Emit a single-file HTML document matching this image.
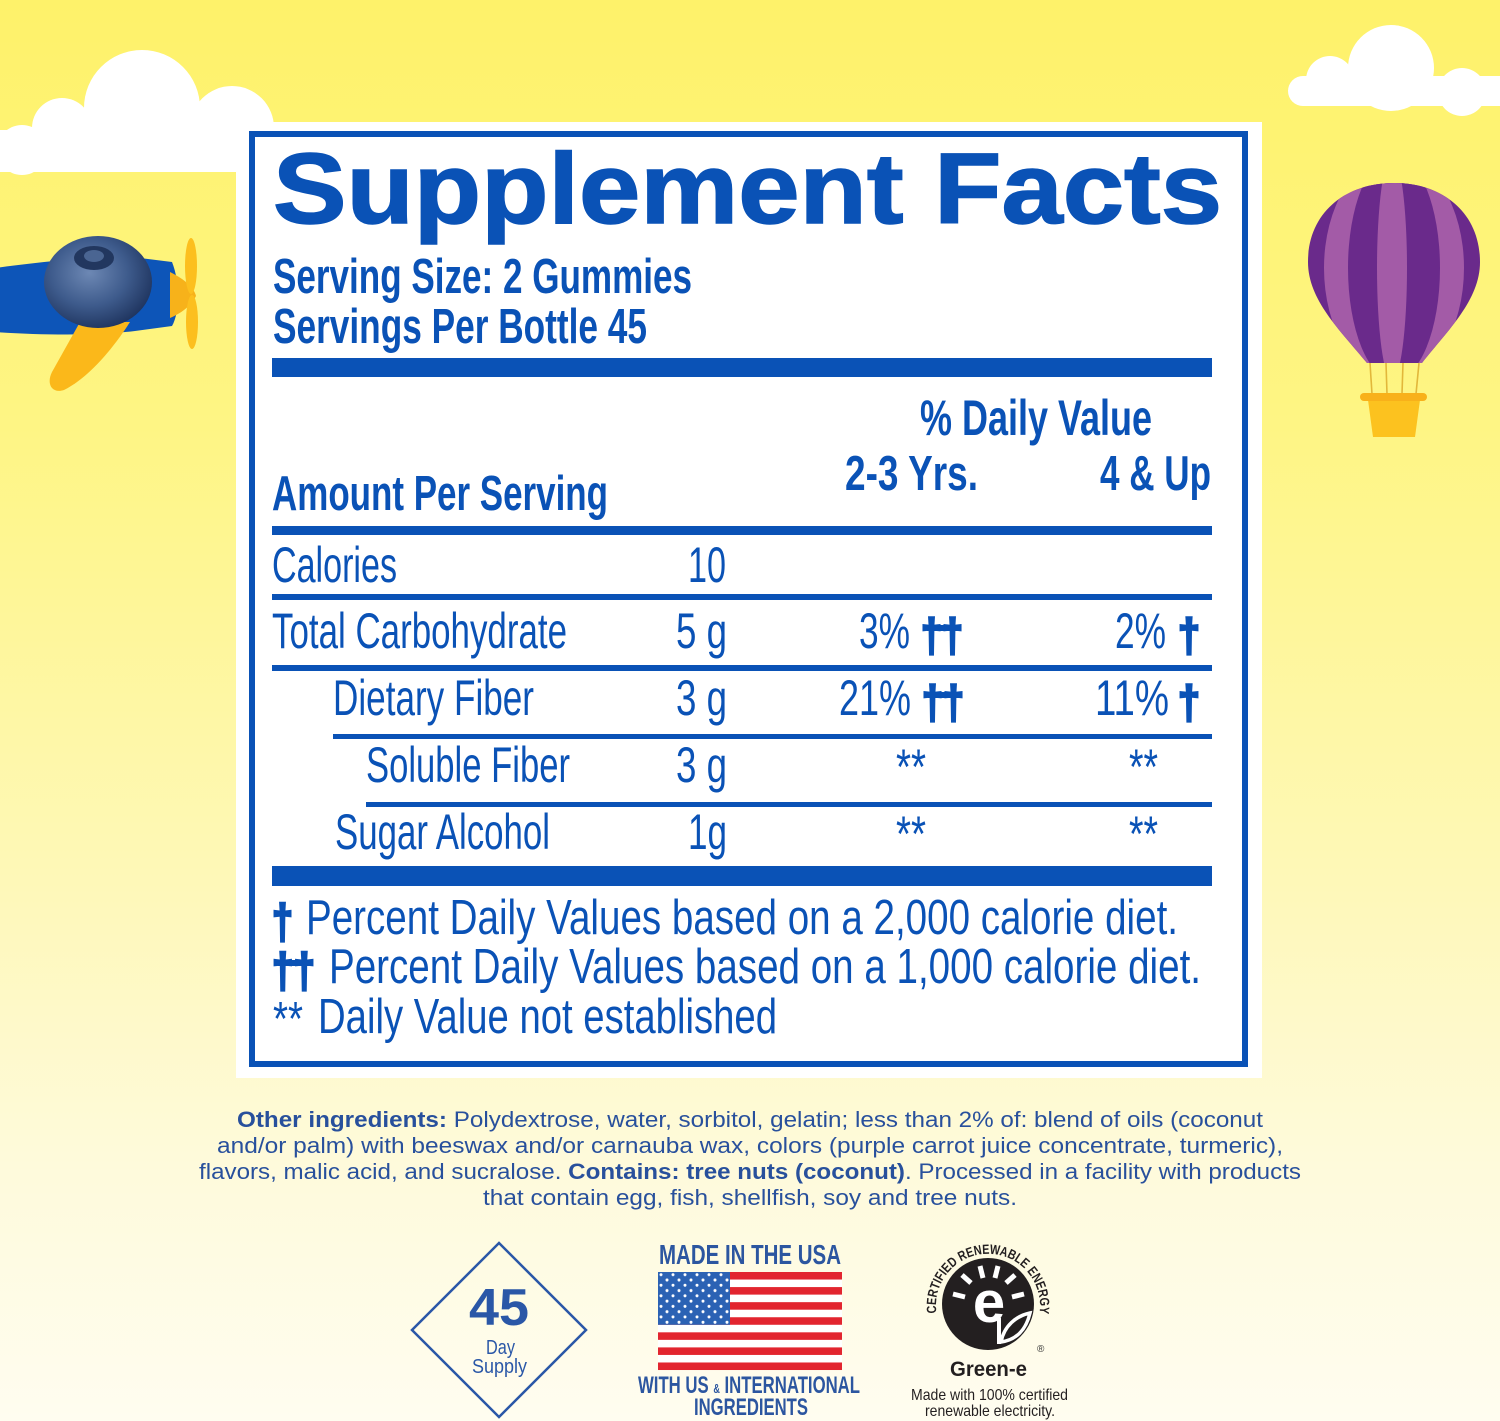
<!DOCTYPE html>
<html>
<head>
<meta charset="utf-8">
<style>
html,body{margin:0;padding:0;background:#fff;}
body{width:1500px;height:1421px;overflow:hidden;}
svg{display:block;}
.b{fill:#0a52b6;font-family:"Liberation Sans",Arial,sans-serif;}
.bd{font-weight:bold;}
</style>
</head>
<body>
<svg width="1500" height="1421" viewBox="0 0 1500 1421" xmlns="http://www.w3.org/2000/svg">
<defs>
<linearGradient id="bg" x1="0" y1="0" x2="0" y2="1">
 <stop offset="0" stop-color="#fef26a"/>
 <stop offset="0.3" stop-color="#fef584"/>
 <stop offset="0.62" stop-color="#fef8b8"/>
 <stop offset="0.82" stop-color="#fefadb"/>
 <stop offset="1" stop-color="#fffdf0"/>
</linearGradient>
<radialGradient id="berry" cx="0.42" cy="0.4" r="0.65">
 <stop offset="0" stop-color="#6d88b4"/>
 <stop offset="0.55" stop-color="#3e5b8c"/>
 <stop offset="1" stop-color="#1d325c"/>
</radialGradient>
<clipPath id="env">
 <path d="M1367,363 C1340,330 1308,300 1308,262 C1308,213 1345,183 1394,183 C1443,183 1480,213 1480,262 C1480,300 1448,330 1422,363 Z"/>
</clipPath>
<pattern id="stars" x="658" y="1272" width="12" height="10.56" patternUnits="userSpaceOnUse">
 <circle cx="3" cy="2.7" r="1.5" fill="#fff"/>
 <circle cx="9" cy="8" r="1.5" fill="#fff"/>
</pattern>
<path id="arc" d="M936.5,1313 A52,52 0 1 1 1039.5,1313"/>
</defs>

<rect width="1500" height="1421" fill="url(#bg)"/>

<!-- top-left cloud -->
<g fill="#fff">
 <rect x="-20" y="130" width="292" height="42" rx="20"/>
 <circle cx="22" cy="150" r="25"/>
 <circle cx="62" cy="128" r="30"/>
 <circle cx="142" cy="108" r="58"/>
 <circle cx="232" cy="128" r="42"/>
</g>
<!-- top-right cloud -->
<g fill="#fff">
 <rect x="1288" y="76" width="230" height="30" rx="15"/>
 <circle cx="1330" cy="80" r="24"/>
 <circle cx="1391" cy="68" r="43"/>
 <circle cx="1462" cy="92" r="24"/>
</g>

<!-- balloon -->
<g>
 <path d="M1367,363 C1340,330 1308,300 1308,262 C1308,213 1345,183 1394,183 C1443,183 1480,213 1480,262 C1480,300 1448,330 1422,363 Z" fill="#6a2a8b"/>
 <g clip-path="url(#env)">
  <ellipse cx="1394" cy="268" rx="70" ry="112" fill="#a35ba7"/>
  <ellipse cx="1394" cy="268" rx="46" ry="112" fill="#6a2a8b"/>
  <ellipse cx="1392" cy="268" rx="15" ry="112" fill="#a35ba7"/>
 </g>
 <g stroke="#e2b73a" stroke-width="1.6">
  <line x1="1370" y1="363" x2="1372" y2="394"/>
  <line x1="1386" y1="363" x2="1387" y2="394"/>
  <line x1="1403" y1="363" x2="1402" y2="394"/>
  <line x1="1419" y1="363" x2="1416" y2="394"/>
 </g>
 <polygon points="1368,400 1420,400 1415,437 1373,437" fill="#fcc21f"/>
 <rect x="1360" y="393" width="67" height="8" rx="4" fill="#f8b11a"/>
</g>

<!-- airplane -->
<g>
 <path d="M-5,268 C40,262 100,255 140,258 L172,262 C180,282 180,312 172,326 L135,331 C95,336 40,335 -5,332 Z" fill="#0d55b8"/>
 <path d="M80,322 L130,322 C112,350 88,378 64,390 C52,394 46,384 52,372 Z" fill="#fbb81a"/>
 <path d="M170,272 C186,280 194,288 196,296 C192,304 184,312 170,318 Z" fill="#f7b21a"/>
 <ellipse cx="191" cy="266" rx="6" ry="28" fill="#fcbf1e"/>
 <ellipse cx="192" cy="322" rx="6" ry="27" fill="#fcbf1e"/>
 <ellipse cx="98" cy="282" rx="54" ry="46" fill="url(#berry)"/>
 <ellipse cx="94" cy="258" rx="20" ry="12" fill="#22375f"/>
 <ellipse cx="94" cy="256" rx="10" ry="6" fill="#4a6592"/>
</g>

<!-- white panel -->
<rect x="236" y="122" width="1026" height="956" fill="#fff"/>
<rect x="252" y="134" width="993" height="930" fill="none" stroke="#0a52b6" stroke-width="6"/>

<!-- title -->
<text class="b bd" x="273" y="223" font-size="100" stroke="#0a52b6" stroke-width="1.5" textLength="949" lengthAdjust="spacingAndGlyphs">Supplement Facts</text>
<text class="b bd" x="273" y="293" font-size="49" textLength="419" lengthAdjust="spacingAndGlyphs">Serving Size: 2 Gummies</text>
<text class="b bd" x="273" y="343" font-size="49" textLength="374" lengthAdjust="spacingAndGlyphs">Servings Per Bottle 45</text>

<rect x="272" y="358" width="940" height="19" fill="#0a52b6"/>

<text class="b bd" x="920" y="435" font-size="50" textLength="232" lengthAdjust="spacingAndGlyphs">% Daily Value</text>
<text class="b bd" x="845" y="490" font-size="49" textLength="133" lengthAdjust="spacingAndGlyphs">2-3 Yrs.</text>
<text class="b bd" x="1100" y="490" font-size="49" textLength="111" lengthAdjust="spacingAndGlyphs">4 &amp; Up</text>
<text class="b bd" x="272" y="510" font-size="49" textLength="336" lengthAdjust="spacingAndGlyphs">Amount Per Serving</text>

<rect x="272" y="526" width="940" height="9" fill="#0a52b6"/>

<!-- Calories -->
<text class="b" x="272" y="582" font-size="50" textLength="125" lengthAdjust="spacingAndGlyphs">Calories</text>
<text class="b" x="688" y="582" font-size="50" textLength="38" lengthAdjust="spacingAndGlyphs">10</text>

<rect x="272" y="594" width="940" height="6" fill="#0a52b6"/>

<!-- Total Carbohydrate -->
<text class="b" x="272" y="648" font-size="50" textLength="295" lengthAdjust="spacingAndGlyphs">Total Carbohydrate</text>
<text class="b" x="676" y="648" font-size="50" textLength="51" lengthAdjust="spacingAndGlyphs">5 g</text>
<text class="b" x="859" y="648" font-size="50" textLength="51" lengthAdjust="spacingAndGlyphs">3%</text>
<text class="b bd" x="921" y="651" font-size="46" stroke="#0a52b6" stroke-width="2.6" textLength="42" lengthAdjust="spacingAndGlyphs">††</text>
<rect x="927" y="625" width="32" height="6" fill="#0a52b6"/>
<text class="b" x="1115" y="648" font-size="50" textLength="51" lengthAdjust="spacingAndGlyphs">2%</text>
<text class="b bd" x="1178" y="651" font-size="46" stroke="#0a52b6" stroke-width="2.6" textLength="22" lengthAdjust="spacingAndGlyphs">†</text>

<rect x="272" y="665" width="940" height="6" fill="#0a52b6"/>

<!-- Dietary Fiber -->
<text class="b" x="333" y="715" font-size="50" textLength="201" lengthAdjust="spacingAndGlyphs">Dietary Fiber</text>
<text class="b" x="676" y="715" font-size="50" textLength="51" lengthAdjust="spacingAndGlyphs">3 g</text>
<text class="b" x="839" y="715" font-size="50" textLength="72" lengthAdjust="spacingAndGlyphs">21%</text>
<text class="b bd" x="922" y="718" font-size="46" stroke="#0a52b6" stroke-width="2.6" textLength="42" lengthAdjust="spacingAndGlyphs">††</text>
<rect x="928" y="692" width="32" height="6" fill="#0a52b6"/>
<text class="b" x="1095" y="715" font-size="50" textLength="74" lengthAdjust="spacingAndGlyphs">11%</text>
<text class="b bd" x="1178" y="718" font-size="46" stroke="#0a52b6" stroke-width="2.6" textLength="22" lengthAdjust="spacingAndGlyphs">†</text>

<rect x="333" y="734" width="879" height="5" fill="#0a52b6"/>

<!-- Soluble Fiber -->
<text class="b" x="366" y="782" font-size="50" textLength="204" lengthAdjust="spacingAndGlyphs">Soluble Fiber</text>
<text class="b" x="676" y="782" font-size="50" textLength="51" lengthAdjust="spacingAndGlyphs">3 g</text>
<text class="b" x="896" y="784" font-size="50" textLength="30" lengthAdjust="spacingAndGlyphs">**</text>
<text class="b" x="1129" y="784" font-size="50" textLength="29" lengthAdjust="spacingAndGlyphs">**</text>

<rect x="366" y="802" width="846" height="5" fill="#0a52b6"/>

<!-- Sugar Alcohol -->
<text class="b" x="335" y="849" font-size="50" textLength="215" lengthAdjust="spacingAndGlyphs">Sugar Alcohol</text>
<text class="b" x="688" y="849" font-size="50" textLength="39" lengthAdjust="spacingAndGlyphs">1g</text>
<text class="b" x="896" y="851" font-size="50" textLength="30" lengthAdjust="spacingAndGlyphs">**</text>
<text class="b" x="1129" y="851" font-size="50" textLength="29" lengthAdjust="spacingAndGlyphs">**</text>

<rect x="272" y="866" width="940" height="20" fill="#0a52b6"/>

<!-- footnotes -->
<text class="b bd" x="272" y="938" font-size="48" stroke="#0a52b6" stroke-width="2.6" textLength="21" lengthAdjust="spacingAndGlyphs">†</text>
<text class="b" x="306" y="934" font-size="49" textLength="872" lengthAdjust="spacingAndGlyphs">Percent Daily Values based on a 2,000 calorie diet.</text>
<text class="b bd" x="272" y="987" font-size="48" stroke="#0a52b6" stroke-width="2.6" textLength="43" lengthAdjust="spacingAndGlyphs">††</text>
<rect x="278" y="960" width="32" height="6" fill="#0a52b6"/>
<text class="b" x="329" y="983" font-size="49" textLength="872" lengthAdjust="spacingAndGlyphs">Percent Daily Values based on a 1,000 calorie diet.</text>
<text class="b" x="273" y="1035" font-size="48" textLength="30" lengthAdjust="spacingAndGlyphs">**</text>
<text class="b" x="318" y="1033" font-size="49" textLength="459" lengthAdjust="spacingAndGlyphs">Daily Value not established</text>

<!-- ingredients -->
<g font-family="'Liberation Sans',Arial,sans-serif" font-size="22" fill="#28509c">
 <text x="237" y="1127" textLength="1026" lengthAdjust="spacingAndGlyphs"><tspan font-weight="bold">Other ingredients:</tspan> Polydextrose, water, sorbitol, gelatin; less than 2% of: blend of oils (coconut</text>
 <text x="217" y="1153" textLength="1066" lengthAdjust="spacingAndGlyphs">and/or palm) with beeswax and/or carnauba wax, colors (purple carrot juice concentrate, turmeric),</text>
 <text x="199" y="1179" textLength="1102" lengthAdjust="spacingAndGlyphs">flavors, malic acid, and sucralose. <tspan font-weight="bold">Contains: tree nuts (coconut)</tspan>. Processed in a facility with products</text>
 <text x="483" y="1205" textLength="534" lengthAdjust="spacingAndGlyphs">that contain egg, fish, shellfish, soy and tree nuts.</text>
</g>

<!-- 45 day supply -->
<polygon points="499,1243 586,1330 499,1417 412,1330" fill="none" stroke="#2a57a7" stroke-width="2.5"/>
<g font-family="'Liberation Sans',Arial,sans-serif" fill="#2a57a7">
 <text x="469" y="1325" font-size="52" font-weight="bold" textLength="60" lengthAdjust="spacingAndGlyphs">45</text>
 <text x="486" y="1354" font-size="20" textLength="29" lengthAdjust="spacingAndGlyphs">Day</text>
 <text x="472" y="1373" font-size="20" textLength="55" lengthAdjust="spacingAndGlyphs">Supply</text>
</g>

<!-- made in USA -->
<g font-family="'Liberation Sans',Arial,sans-serif" font-weight="bold" fill="#2c56a0">
 <text x="659" y="1264" font-size="28" textLength="182" lengthAdjust="spacingAndGlyphs">MADE IN THE USA</text>
 <text x="638" y="1393" font-size="24" textLength="222" lengthAdjust="spacingAndGlyphs">WITH US <tspan font-size="13">&amp;</tspan> INTERNATIONAL</text>
 <text x="694" y="1415" font-size="24" textLength="114" lengthAdjust="spacingAndGlyphs">INGREDIENTS</text>
</g>
<g>
 <rect x="658" y="1272" width="184" height="98" fill="#fff"/>
 <g fill="#e2252f">
  <rect x="658" y="1272" width="184" height="7.54"/>
  <rect x="658" y="1287.08" width="184" height="7.54"/>
  <rect x="658" y="1302.16" width="184" height="7.54"/>
  <rect x="658" y="1317.24" width="184" height="7.54"/>
  <rect x="658" y="1332.32" width="184" height="7.54"/>
  <rect x="658" y="1347.4" width="184" height="7.54"/>
  <rect x="658" y="1362.48" width="184" height="7.54"/>
 </g>
 <rect x="658" y="1272" width="72" height="52.8" fill="#2b62b4"/>
 <rect x="658" y="1272" width="72" height="52.8" fill="url(#stars)"/>
</g>

<!-- green-e -->
<g>
 <circle cx="988" cy="1304" r="46" fill="#231f20"/>
 <g stroke="#fff" stroke-width="5" stroke-linecap="butt">
  <line x1="953" y1="1294" x2="965" y2="1297"/>
  <line x1="962" y1="1275" x2="971" y2="1283"/>
  <line x1="980" y1="1266" x2="983" y2="1278"/>
  <line x1="998" y1="1266" x2="995" y2="1278"/>
  <line x1="1015" y1="1275" x2="1006" y2="1283"/>
  <line x1="1024" y1="1294" x2="1012" y2="1297"/>
 </g>
 <text x="989" y="1322" font-family="'Liberation Sans',Arial,sans-serif" font-weight="bold" font-size="58" fill="#fff" text-anchor="middle">e</text>
 <path d="M999,1318 L999,1344" stroke="#fff" stroke-width="4" fill="none"/>
 <path d="M1001,1342 C1004,1326 1016,1316 1030,1313 C1026,1330 1016,1340 1001,1342 Z" fill="none" stroke="#fff" stroke-width="3.5"/>
 <text font-family="'Liberation Sans',Arial,sans-serif" font-weight="bold" font-size="13.5" fill="#231f20"><textPath href="#arc" textLength="178" lengthAdjust="spacingAndGlyphs">CERTIFIED RENEWABLE ENERGY</textPath></text>
 <text x="1037" y="1352" font-family="'Liberation Sans',Arial,sans-serif" font-size="10" fill="#333">®</text>
 <text x="950" y="1376" font-family="'Liberation Sans',Arial,sans-serif" font-weight="bold" font-size="21" fill="#231f20" textLength="77" lengthAdjust="spacingAndGlyphs">Green-e</text>
 <text x="911" y="1400" font-family="'Liberation Sans',Arial,sans-serif" font-size="16" fill="#231f20" textLength="157" lengthAdjust="spacingAndGlyphs">Made with 100% certified</text>
 <text x="925" y="1416" font-family="'Liberation Sans',Arial,sans-serif" font-size="16" fill="#231f20" textLength="130" lengthAdjust="spacingAndGlyphs">renewable electricity.</text>
</g>
</svg>
</body>
</html>
